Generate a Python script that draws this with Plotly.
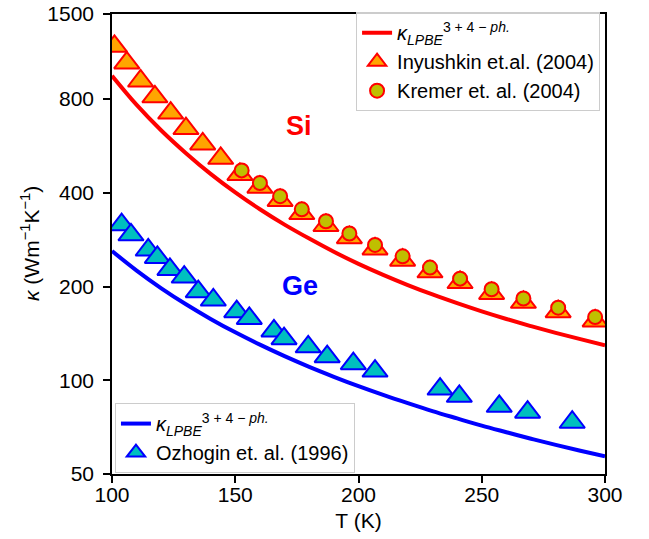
import plotly.graph_objects as go

# ---- data ----
T_line = [100, 110, 120, 130, 140, 150, 160, 170, 180, 190, 200,
          210, 220, 230, 240, 250, 260, 270, 280, 290, 300]
si_model = [950, 766, 634, 536, 460, 401, 354, 316, 285, 258.5, 236.5,
            218, 202.2, 188.6, 176.8, 166.4, 157.3, 149.2, 142, 135.5, 129.6]
ge_model = [260, 225, 197.4, 175.4, 157.4, 142.5, 130.1, 119.5, 110.4, 102.6, 95.7,
            89.7, 84.4, 79.6, 75.4, 71.5, 68.1, 64.9, 62.0, 59.4, 57.0]

T_inyushkin = [101, 106, 111.6, 117.4, 123.8, 130, 136.8, 144.1, 151.9, 160, 168.2,
               177, 186.8, 196.3, 206.7, 217.9, 229, 241.2, 254, 266.9, 281, 296]
k_inyushkin = [1181, 1045, 914, 813, 721, 643, 574, 516, 458, 417, 378,
               343, 314, 287, 264, 243, 223, 206, 190, 178, 166, 155]

T_kremer = [152.6, 160, 168.2, 177, 186.8, 196.3, 206.7, 217.9, 229, 241.2, 254,
            266.9, 281, 296]
k_kremer = [472, 430, 390, 354, 324, 296, 272, 250, 230, 212, 196, 183, 171, 159.5]

T_ozhogin = [103.9, 107.7, 114.7, 118.4, 123.5, 129.3, 135, 141.1, 150.6, 155.7, 165.7,
             169.8, 179.6, 187.3, 197.9, 206.7, 233.1, 240.9, 257.1, 268.6, 286.7]
k_ozhogin = [316, 293, 262, 248, 227, 214.5, 192.5, 181, 166, 158, 144,
             136, 128, 119, 113, 107, 93.7, 88.8, 82.5, 79, 73.3]

x_ticks = [100, 150, 200, 250, 300]
y_ticks = [50, 100, 200, 400, 800, 1500]
y_ticktext = ["50", "100", "200", "400", "800", "1500"]

FONT = "Liberation Sans, Arial, sans-serif"
kappa_label = "<i>κ</i><sub><i>LPBE</i></sub><sup>3 + 4 − <i>ph.</i></sup>"

fig = go.Figure()

fig.add_trace(go.Scatter(x=T_line, y=si_model, mode="lines", name=kappa_label,
                         line=dict(color="#FF0000", width=4, shape="spline"),
                         legend="legend"))
fig.add_trace(go.Scatter(x=T_inyushkin, y=k_inyushkin, mode="markers",
                         name="Inyushkin et.al. (2004)",
                         marker=dict(symbol="triangle-up", size=22, color="#FFA500",
                                     line=dict(color="#FF0000", width=2)),
                         legend="legend"))
fig.add_trace(go.Scatter(x=T_kremer, y=k_kremer, mode="markers",
                         name="Kremer et. al. (2004)",
                         marker=dict(symbol="circle", size=14, color="#BFBF00",
                                     line=dict(color="#FF0000", width=2)),
                         legend="legend"))
fig.add_trace(go.Scatter(x=T_line, y=ge_model, mode="lines", name=kappa_label,
                         line=dict(color="#0000FF", width=4, shape="spline"),
                         legend="legend2"))
fig.add_trace(go.Scatter(x=T_ozhogin, y=k_ozhogin, mode="markers",
                         name="Ozhogin et. al. (1996)",
                         marker=dict(symbol="triangle-up", size=22, color="#00BFBF",
                                     line=dict(color="#0000FF", width=2)),
                         legend="legend2"))

axis_common = dict(showline=True, linecolor="black", linewidth=1.5, mirror=True,
                   ticks="outside", ticklen=7, tickwidth=1.5, tickcolor="black",
                   showgrid=False, zeroline=False, automargin=False,
                   ticklabeloverflow="allow",
                   tickfont=dict(family=FONT, size=21, color="black"))

fig.update_xaxes(range=[100, 300], tickvals=x_ticks, ticklabelstandoff=-6,
                 title=dict(text="T (K)", font=dict(family=FONT, size=21, color="black"),
                            standoff=8),
                 **axis_common)
fig.update_yaxes(type="log", range=[1.69897, 3.176091], tickvals=y_ticks,
                 ticktext=y_ticktext, ticklabelstandoff=5,
                 **axis_common)

legend_style = dict(bgcolor="rgba(255,255,255,0.8)", bordercolor="#cccccc", borderwidth=1,
                    font=dict(family=FONT, size=20, color="black"), tracegroupgap=0)

fig.update_layout(
    width=649, height=539,
    margin=dict(l=112, r=44, t=12, b=65),
    paper_bgcolor="white", plot_bgcolor="white",
    font=dict(family=FONT, color="black"),
    legend=dict(x=0.99, y=1.004, xanchor="right", yanchor="top", **legend_style),
    legend2=dict(x=0.006, y=0.002, xanchor="left", yanchor="bottom", **legend_style),
    annotations=[
        dict(text="<i>κ</i> (Wm<sup>−1</sup>K<sup>−1</sup>)", textangle=-90,
             x=-0.1663, y=0.5, xref="paper", yref="paper",
             xanchor="center", yanchor="middle", showarrow=False,
             font=dict(family=FONT, size=21, color="black")),
        dict(text="<b>Si</b>", x=0.379, y=0.756, xref="paper", yref="paper",
             xanchor="center", yanchor="middle", showarrow=False,
             font=dict(family=FONT, size=27, color="#FF0000")),
        dict(text="<b>Ge</b>", x=0.381, y=0.409, xref="paper", yref="paper",
             xanchor="center", yanchor="middle", showarrow=False,
             font=dict(family=FONT, size=27, color="#0000FF")),
    ],
)

fig.write_html("out.html",
               config={"displayModeBar": False},
               post_script="document.body.style.margin='0px';"
                           "document.body.style.overflow='hidden';")
